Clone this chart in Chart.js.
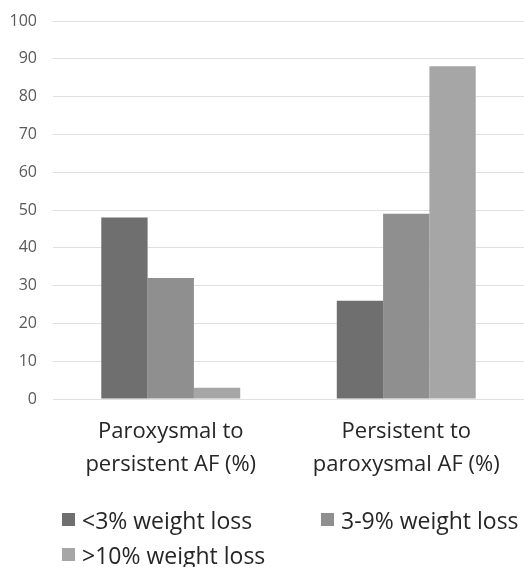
<!DOCTYPE html>
<html>
<head>
<meta charset="utf-8">
<script src="https://cdn.jsdelivr.net/npm/chart.js@4.4.1/dist/chart.umd.min.js"></script>
<style>
  html, body { margin: 0; padding: 0; background: #fff; }
  #wrap { position: relative; width: 524px; height: 567px; }
  #legend { position: absolute; left: 62px; top: 505px; width: 462px;
    display: grid; grid-template-columns: 259px 203px; row-gap: 6px;
    font-family: "Open Sans", sans-serif; font-size: 23px; color: #262626; }
  .item { display: flex; align-items: center; height: 29px; white-space: nowrap; }
  .box { width: 13px; height: 13px; margin-right: 7px; flex: none; }
</style>
</head>
<body>
<div id="wrap">
  <canvas id="c" width="524" height="567"></canvas>
  <div id="legend"></div>
</div>
<script>
const categories = [["Paroxysmal to", "persistent AF (%)"], ["Persistent to", "paroxysmal AF (%)"]];
const seriesNames = ["<3% weight loss", "3-9% weight loss", ">10% weight loss"];
const lessThan3 = [48, 26];
const from3to9 = [32, 49];
const over10 = [3, 88];
const colors = ["#6f6f6f", "#8f8f8f", "#a6a6a6"];
const yTicks = [0, 10, 20, 30, 40, 50, 60, 70, 80, 90, 100];

const seriesValues = [lessThan3, from3to9, over10];
const datasets = seriesNames.map((name, i) => ({
  label: name,
  data: seriesValues[i],
  backgroundColor: colors[i],
  borderWidth: 0,
  barPercentage: 1.0,
  categoryPercentage: 0.59
}));

const chart = new Chart(document.getElementById("c"), {
  type: "bar",
  data: { labels: categories, datasets },
  options: {
    responsive: false,
    animation: false,
    layout: { padding: { top: 21, left: 0, right: 0, bottom: 70 } },
    plugins: { legend: { display: false }, tooltip: { enabled: false } },
    scales: {
      x: {
        grid: { display: false, drawTicks: false },
        border: { display: false },
        ticks: {
          padding: 16,
          color: "#262626",
          font: { family: "'Open Sans', sans-serif", size: 22, lineHeight: 1.5 },
          maxRotation: 0, autoSkip: false
        }
      },
      y: {
        min: 0, max: 100,
        afterFit: (s) => { s.width = 53; },
        afterBuildTicks: (s) => { s.ticks = yTicks.map(v => ({ value: v })); },
        grid: { color: "#e0e0e0", lineWidth: 1, drawTicks: true, tickLength: 12, tickColor: "rgba(0,0,0,0)" },
        border: { display: false },
        ticks: {
          padding: 4,
          color: "#595959",
          font: { family: "'Open Sans', sans-serif", size: 16 }
        }
      }
    }
  }
});

const legend = document.getElementById("legend");
chart.data.datasets.forEach(ds => {
  const it = document.createElement("div");
  it.className = "item";
  const b = document.createElement("span");
  b.className = "box";
  b.style.background = ds.backgroundColor;
  const t = document.createElement("span");
  t.textContent = ds.label;
  it.appendChild(b); it.appendChild(t);
  legend.appendChild(it);
});
</script>
</body>
</html>
